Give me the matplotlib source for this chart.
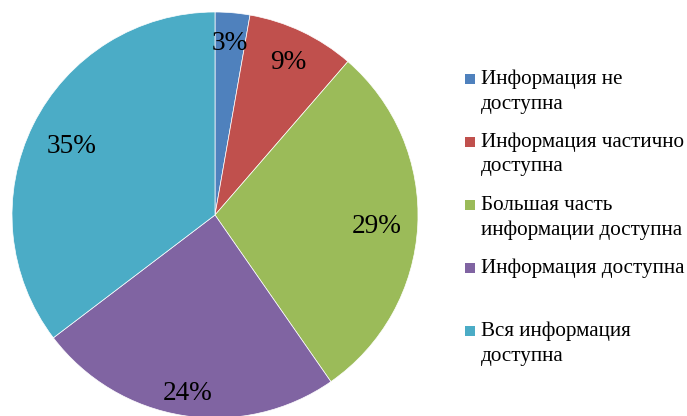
import matplotlib
matplotlib.use("Agg")
import matplotlib.pyplot as plt
from matplotlib.patches import Rectangle
import numpy as np

# Data (shares; labels show rounded values)
categories = [
    "Информация не\nдоступна",
    "Информация частично\nдоступна",
    "Большая часть\nинформации доступна",
    "Информация доступна",
    "Вся информация\nдоступна",
]
shares = [2.76, 8.60, 28.97, 24.33, 35.34]
colors = ["#4F81BD", "#C0504D", "#9BBB59", "#8064A2", "#4BACC6"]
label_dist = [0.865, 0.846, 0.80, 0.873, 0.789]
legend_y = [79, 142, 205, 268, 331]  # px from top, first line centre

W, H = 687, 416
DPI = 100
FONT = "Liberation Serif"

fig = plt.figure(figsize=(W / DPI, H / DPI), dpi=DPI)

# Pie axes: centre (215, 215), radius ~203 px
cx, cy, r = 215, 215, 203
ax = fig.add_axes([(cx - r) / W, (H - cy - r) / H, 2 * r / W, 2 * r / H])
wedges, _ = ax.pie(
    shares,
    colors=colors,
    startangle=90,
    counterclock=False,
    radius=1,
    wedgeprops=dict(edgecolor="white", linewidth=0.5),
)
ax.set_xlim(-1, 1)
ax.set_ylim(-1, 1)
ax.set_aspect("auto")
ax.axis("off")

# Percent labels
for w, v, d in zip(wedges, shares, label_dist):
    ang = np.deg2rad((w.theta1 + w.theta2) / 2)
    ax.text(
        d * np.cos(ang),
        d * np.sin(ang),
        f"{round(v)}%",
        ha="center",
        va="center_baseline",
        fontsize=19.6,
        family=FONT,
        color="black",
    )

# Legend
for lab, col, y in zip(categories, colors, legend_y):
    fig.patches.append(
        Rectangle(
            (465 / W, 1 - (y + 5) / H),
            10 / W,
            10 / H,
            transform=fig.transFigure,
            facecolor=col,
            edgecolor="none",
        )
    )
    for i, line in enumerate(lab.split("\n")):
        fig.text(
            481 / W,
            1 - (y + 25 * i) / H,
            line,
            ha="left",
            va="center",
            fontsize=15.2,
            family=FONT,
            color="black",
        )

fig.savefig("out.png", dpi=DPI)
